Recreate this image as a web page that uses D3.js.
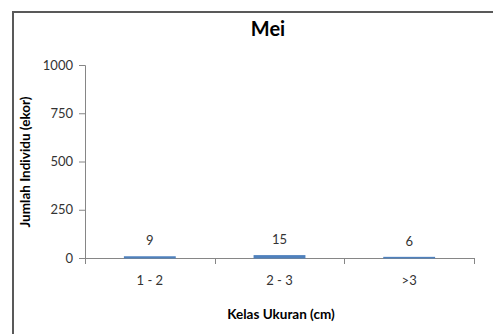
<!DOCTYPE html>
<html><head><meta charset="utf-8">
<script src="https://cdn.jsdelivr.net/npm/d3@7"></script>
<style>body{margin:0;background:#fff;}svg{display:block;font-family:Lato,"Open Sans",Arial,sans-serif;}</style>
</head><body>
<svg id="c" width="493" height="334"></svg>
<script>
const categories = ["1 - 2", "2 - 3", ">3"];
const values = [9, 15, 6];
const yTicks = [0, 250, 500, 750, 1000];
const title = "Mei";
const xTitle = "Kelas Ukuran (cm)";
const yTitle = "Jumlah Individu (ekor)";

const FONT = "Lato,'Open Sans',Arial,sans-serif";
const svg = d3.select("#c");
// frame
svg.append("path").attr("d","M13,334 L13,12 L493,12").attr("fill","none").attr("stroke","#595959").attr("stroke-width",2);

const pL = 85, pR = 474, pT = 65, pB = 258;
const x = d3.scaleBand().domain(categories).range([pL, pR]).paddingInner(0).paddingOuter(0);
const y = d3.scaleLinear().domain([0, 1000]).range([pB, pT]);

// y axis
const ya = svg.append("g").attr("transform",`translate(${pL},0)`)
  .call(d3.axisLeft(y).tickValues(yTicks).tickSize(6).tickPadding(6).tickFormat(d3.format("d")));
ya.select(".domain").attr("stroke","#868686").attr("d",`M-6,${pT+0.5}H0.5V${pB+0.5}`);
ya.selectAll(".tick line").attr("stroke","#868686");
ya.selectAll("text").attr("fill","#333").style("font-size","13px").style("font-family",FONT);

// x axis
const xa = svg.append("g").attr("transform",`translate(0,${pB})`);
xa.append("line").attr("x1",pL-6).attr("x2",pR).attr("y1",0.5).attr("y2",0.5).attr("stroke","#868686");
const bounds = [pL, ...categories.map(c => x(c) + x.bandwidth())];
xa.selectAll("line.tk").data(bounds).enter().append("line").attr("class","tk")
  .attr("x1",d=>Math.round(d)+0.5).attr("x2",d=>Math.round(d)+0.5).attr("y1",0).attr("y2",6).attr("stroke","#868686");
xa.selectAll("text").data(categories).enter().append("text")
  .attr("x",d=>x(d)+x.bandwidth()/2).attr("y",27).attr("text-anchor","middle")
  .attr("fill","#333").style("font-size","13px").text(d=>d);

// bars
const bw = x.bandwidth()*0.4;
svg.selectAll("rect.bar").data(values).enter().append("rect").attr("class","bar")
  .attr("x",(d,i)=>x(categories[i])+x.bandwidth()/2-bw/2)
  .attr("width",bw)
  .attr("y",d=>y(d)).attr("height",d=>pB-y(d)+0.5)
  .attr("fill","#4F81BD");

// value labels
svg.selectAll("text.val").data(values).enter().append("text").attr("class","val")
  .attr("x",(d,i)=>x(categories[i])+x.bandwidth()/2).attr("y",d=>y(d)-11)
  .attr("text-anchor","middle").attr("fill","#333").style("font-size","13px").text(d=>d);

// titles
svg.append("text").attr("x",268).attr("y",36).attr("text-anchor","middle")
  .style("font-size","20px").style("font-weight","bold").attr("fill","#000").text(title);
svg.append("text").attr("x",281).attr("y",319).attr("text-anchor","middle")
  .style("font-size","13.5px").style("font-weight","bold").attr("fill","#000").text(xTitle);
svg.append("text").attr("transform",`translate(30,162) rotate(-90)`).attr("text-anchor","middle")
  .style("font-size","13.5px").style("font-weight","bold").attr("fill","#000").text(yTitle);
</script>
</body></html>
